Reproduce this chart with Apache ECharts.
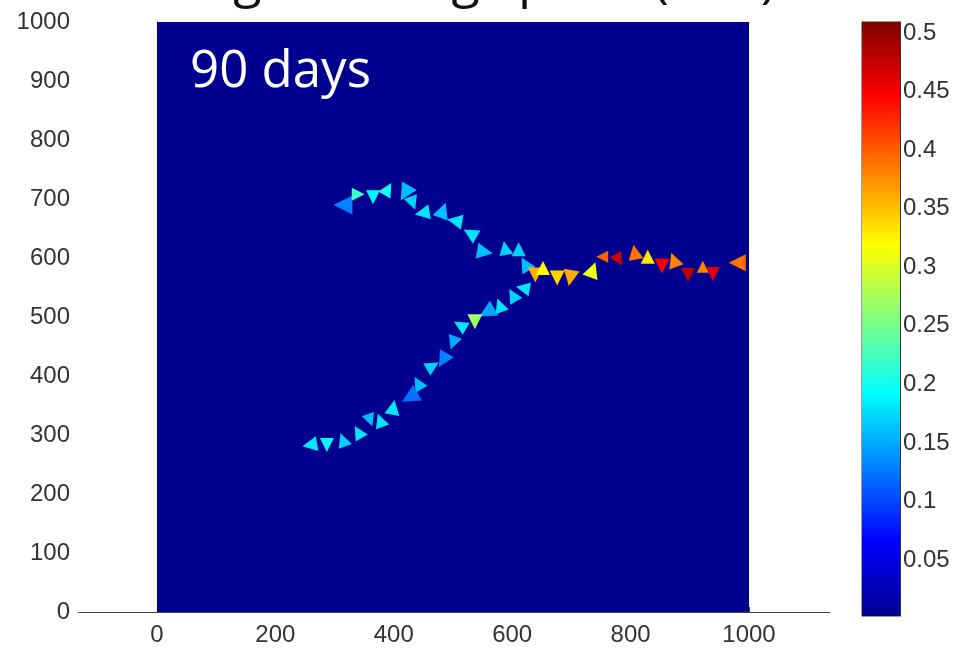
<!DOCTYPE html>
<html><head><meta charset="utf-8">
<script src="https://cdn.jsdelivr.net/npm/echarts@6/dist/echarts.min.js"></script>
<style>html,body{margin:0;padding:0;background:#fff}#c{width:960px;height:648px}</style>
</head><body><div id="c"></div>
<script>
// ---- data ----
const xTicks = [0, 200, 400, 600, 800, 1000];
const yTicks = [0, 100, 200, 300, 400, 500, 600, 700, 800, 900, 1000];
const cbTicks = [0.05, 0.1, 0.15, 0.2, 0.25, 0.3, 0.35, 0.4, 0.45, 0.5];
const cMin = 0.0022, cMax = 0.5094;
const ptX = [314,340,365,390,419,432,448,483,503,529,554,588,611,622,
             639,652,676,698,736,752,780,807,829,853,873,897,922,939,980,
             618,601,579,557,537,512,500,483,466,441,427,399,377,360,340,314,287,258];
const ptY = [690,708,703,717,710,693,676,681,663,642,610,617,615,590,
             571,583,566,566,580,602,597,610,602,586,597,571,585,573,592,
             549,537,520,508,492,486,456,427,417,388,364,347,325,325,305,292,283,283];
const ptVal = [0.13,0.22,0.19,0.20,0.16,0.17,0.18,0.16,0.18,0.18,0.16,0.17,0.17,0.16,
               0.36,0.32,0.34,0.36,0.31,0.40,0.47,0.39,0.33,0.45,0.38,0.48,0.38,0.46,0.39,
               0.18,0.17,0.18,0.15,0.27,0.18,0.15,0.13,0.17,0.16,0.12,0.18,0.18,0.16,0.18,0.17,0.19,0.18];
const ptRot = [90,-90,180,-30,150,200,100,-20,80,60,-100,10,0,30,
               180,0,180,170,-20,90,-150,10,0,180,20,180,0,180,90,
               80,30,20,120,180,60,160,150,-60,30,120,-10,20,200,30,20,180,100];
const ptSize = [19,13,14,14,17,14,15,16,15,15,16,14,14,15,
                15,14,15,16,16,12,13,15,14,15,15,14,12,14,17,
                14,14,14,17,15,14,14,16,14,14,18,15,14,13,14,14,14,15];
const dayLabel = '90 days';
const titleText = 'Average drifting speed (m/s)';

// ---- build ----
const jet = ['#00008f','#0000ff','#0080ff','#00ffff','#80ff80','#ffff00','#ff8000','#ff0000','#800000'];
const data = ptX.map((x, i) => ({
  value: [x, ptY[i], ptVal[i]],
  symbolRotate: ptRot[i],
  symbolSize: ptSize[i]
}));
const gradStops = jet.map((c, i) => ({offset: i / (jet.length - 1), color: c}));
const font = '"Liberation Sans", Arial, sans-serif';
const fmtInt = v => String(Math.round(v));
const fmt = v => String(+v.toFixed(2));

const chart = echarts.init(document.getElementById('c'), null, {renderer: 'canvas'});
chart.setOption({
  animation: false,
  backgroundColor: '#fff',
  grid: [
    {left: 78, top: 22, width: 752, height: 590, containLabel: false},
    {left: 862, top: 22, width: 38, height: 594, show: true, borderColor: '#333', borderWidth: 1, backgroundColor: 'transparent'}
  ],
  xAxis: [
    {type: 'value', gridIndex: 0, min: -133.4, max: 1136.8,
     axisLine: {show: true, lineStyle: {color: '#444', width: 1}},
     axisTick: {show: true, inside: true, length: 5, customValues: xTicks, lineStyle: {color: '#444'}},
     axisLabel: {customValues: xTicks, color: '#333', fontSize: 24, fontFamily: font, margin: 11, formatter: fmtInt},
     splitLine: {show: false}},
    {type: 'category', gridIndex: 1, data: [''], show: false}
  ],
  yAxis: [
    {type: 'value', gridIndex: 0, min: 0, max: 1000, interval: 100,
     axisLine: {show: true, lineStyle: {color: '#444', width: 1}},
     axisTick: {show: true, inside: true, length: 5, customValues: yTicks, lineStyle: {color: '#444'}},
     axisLabel: {customValues: yTicks, color: '#333', fontSize: 24, fontFamily: font, margin: 8, formatter: fmtInt},
     splitLine: {show: false}},
    {type: 'value', gridIndex: 1, min: cMin, max: cMax, position: 'right',
     axisLine: {show: true, lineStyle: {color: '#333'}},
     axisTick: {show: true, inside: true, length: 5, customValues: cbTicks, lineStyle: {color: '#333'}},
     axisLabel: {customValues: cbTicks, color: '#333', fontSize: 24, fontFamily: font, margin: 3, formatter: fmt},
     splitLine: {show: false}},
    {type: 'value', gridIndex: 1, min: cMin, max: cMax, position: 'left',
     axisLine: {show: true, lineStyle: {color: '#333'}},
     axisTick: {show: true, inside: true, length: 5, customValues: cbTicks, lineStyle: {color: '#333'}},
     axisLabel: {show: false}, splitLine: {show: false}}
  ],
  visualMap: {
    type: 'continuous', show: false, min: cMin, max: cMax, dimension: 2, seriesIndex: 0,
    inRange: {color: jet}
  },
  graphic: [
    {type: 'text', left: 190, top: 47, z: 100,
     style: {text: dayLabel, fill: '#fff', font: '500 51px "Open Sans", Lato, sans-serif'}},
    {type: 'text', left: 95, top: -44, z: 100,
     style: {text: titleText, fill: '#111', font: '500 52px "Open Sans", Lato, sans-serif'}}
  ],
  series: [
    {type: 'scatter', xAxisIndex: 0, yAxisIndex: 0, symbol: 'triangle', data: data, z: 5,
     itemStyle: {opacity: 1},
     markArea: {silent: true, z: 1, itemStyle: {color: '#00008f', opacity: 1},
       data: [[{coord: [0, 0]}, {coord: [1000, 1000]}]]}},
    {type: 'bar', xAxisIndex: 1, yAxisIndex: 1, stack: 'cb', barWidth: '100%', silent: true,
     data: [cMin], itemStyle: {color: 'transparent'}},
    {type: 'bar', xAxisIndex: 1, yAxisIndex: 1, stack: 'cb', barWidth: '100%', silent: true,
     data: [cMax - cMin],
     itemStyle: {color: new echarts.graphic.LinearGradient(0, 1, 0, 0, gradStops)}}
  ]
});
</script></body></html>
